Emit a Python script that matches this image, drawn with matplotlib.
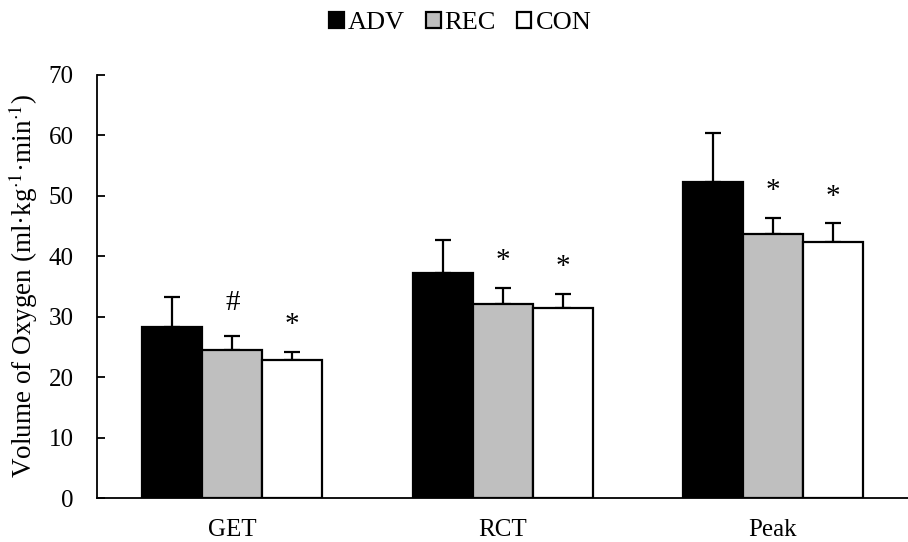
import matplotlib
matplotlib.use("Agg")
import matplotlib.pyplot as plt
import numpy as np

categories = ["GET", "RCT", "Peak"]
groups = ["ADV", "REC", "CON"]
adv = [28.3, 37.2, 52.3]
adv_err = [5.0, 5.5, 8.0]
rec = [24.5, 32.1, 43.7]
rec_err = [2.3, 2.7, 2.7]
con = [22.8, 31.5, 42.4]
con_err = [1.4, 2.3, 3.1]
rec_marks = ["#", "*", "*"]
con_marks = ["*", "*", "*"]
yticks = [0, 10, 20, 30, 40, 50, 60, 70]

plt.rcParams['font.family'] = ['Liberation Serif', 'DejaVu Serif']
plt.rcParams['mathtext.fontset'] = 'stix'

fig = plt.figure(figsize=(9.08, 5.42), dpi=100)
ax = fig.add_axes([0.107, 0.081, 0.893, 0.781])

x = np.arange(len(categories))
w = 0.222
colors = ["black", "#bfbfbf", "white"]
series = [adv, rec, con]
errs = [adv_err, rec_err, con_err]
for i, (vals, e, c, g) in enumerate(zip(series, errs, colors, groups)):
    pos = x + (i - 1) * w
    ax.bar(pos, vals, w, color=c, edgecolor="black", linewidth=1.6, label=g, zorder=2)
    ax.errorbar(pos, vals, yerr=[np.zeros(len(vals)), e], fmt="none", ecolor="black",
                elinewidth=1.6, capsize=6, capthick=1.6, zorder=1)

mark_offset = {"*": 3.2, "#": 4.3}
for i, m in enumerate(rec_marks):
    ax.text(x[i], rec[i] + rec_err[i] + mark_offset[m], m, ha="center", va="baseline", fontsize=21)
for i, m in enumerate(con_marks):
    ax.text(x[i] + w, con[i] + con_err[i] + mark_offset[m], m, ha="center", va="baseline", fontsize=21)

ax.set_xlim(-0.5, 2.5)
ax.set_ylim(0, 70)
ax.set_yticks(yticks)
ax.set_xticks(x)
ax.set_xticklabels(categories)
ax.tick_params(axis="x", length=0, labelsize=18, pad=15)
ax.tick_params(axis="y", length=6, width=1.3, labelsize=18, direction="in", pad=17)
for s in ["top", "right"]:
    ax.spines[s].set_visible(False)
for s in ["left", "bottom"]:
    ax.spines[s].set_linewidth(1.3)
ax.set_ylabel("Volume of Oxygen (ml·kg$^{\\cdot1}$·min$^{\\cdot1}$)", fontsize=19.5, labelpad=6)

fig.legend(loc="center", bbox_to_anchor=(0.507, 0.957), ncol=3, frameon=False,
           fontsize=19, handlelength=0.55, handleheight=0.55, handletextpad=0.15,
           columnspacing=0.8, borderpad=0)

fig.savefig("out.png", dpi=100)
